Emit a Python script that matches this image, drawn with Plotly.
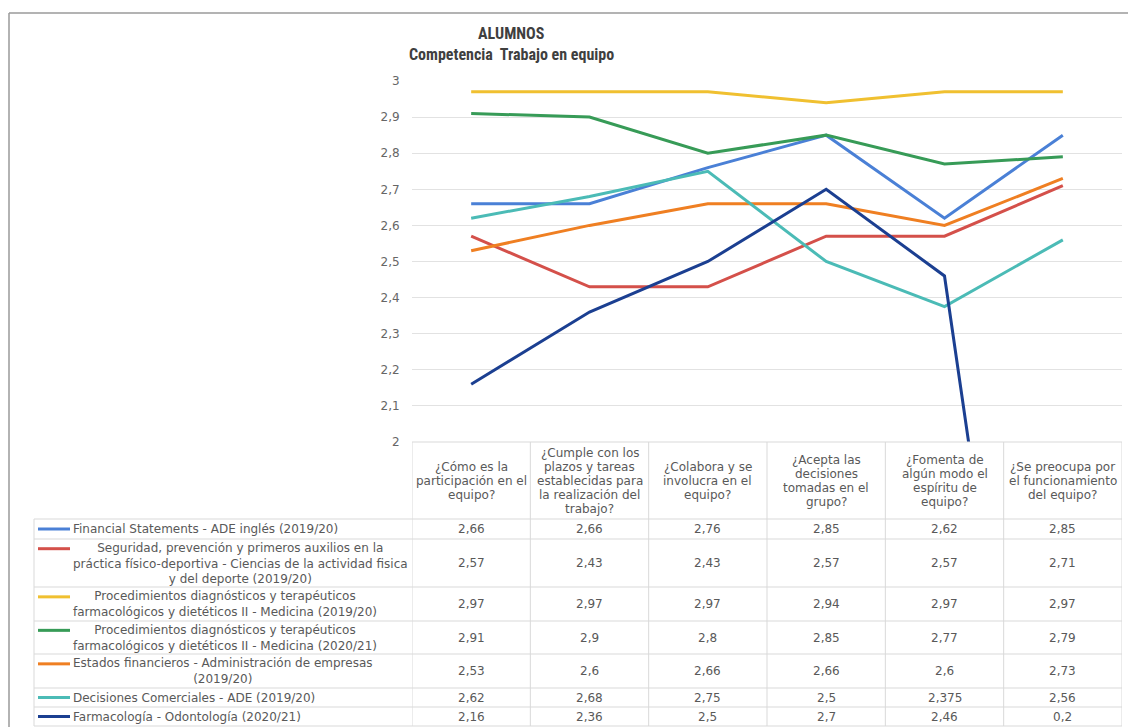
import plotly.graph_objects as go

# ---------------- data ----------------
categories = [
    "¿Cómo es la<br>participación en el<br>equipo?",
    "¿Cumple con los<br>plazos y tareas<br>establecidas para<br>la realización del<br>trabajo?",
    "¿Colabora y se<br>involucra en el<br>equipo?",
    "¿Acepta las<br>decisiones<br>tomadas en el<br>grupo?",
    "¿Fomenta de<br>algún modo el<br>espíritu de<br>equipo?",
    "¿Se preocupa por<br>el funcionamiento<br>del equipo?",
]

series_names = [
    "Financial Statements - ADE inglés (2019/20)",
    "Seguridad, prevención y primeros auxilios en la<br>práctica físico-deportiva - Ciencias de la actividad fisica<br>y del deporte (2019/20)",
    "Procedimientos diagnósticos y terapéuticos<br>farmacológicos y dietéticos II - Medicina (2019/20)",
    "Procedimientos diagnósticos y terapéuticos<br>farmacológicos y dietéticos II - Medicina (2020/21)",
    "Estados financieros - Administración de empresas<br>(2019/20)",
    "Decisiones Comerciales - ADE (2019/20)",
    "Farmacología - Odontología (2020/21)",
]

financial_statements = [2.66, 2.66, 2.76, 2.85, 2.62, 2.85]
seguridad = [2.57, 2.43, 2.43, 2.57, 2.57, 2.71]
procedimientos_1920 = [2.97, 2.97, 2.97, 2.94, 2.97, 2.97]
procedimientos_2021 = [2.91, 2.9, 2.8, 2.85, 2.77, 2.79]
estados_financieros = [2.53, 2.6, 2.66, 2.66, 2.6, 2.73]
decisiones_comerciales = [2.62, 2.68, 2.75, 2.5, 2.375, 2.56]
farmacologia = [2.16, 2.36, 2.5, 2.7, 2.46, 0.2]

series_values = [financial_statements, seguridad, procedimientos_1920,
                 procedimientos_2021, estados_financieros,
                 decisiones_comerciales, farmacologia]

y_ticks = [2, 2.1, 2.2, 2.3, 2.4, 2.5, 2.6, 2.7, 2.8, 2.9, 3]

title_lines = ["ALUMNOS", "Competencia  Trabajo en equipo"]

# ---------------- style ----------------
colors = ["#4a80d6", "#d4504a", "#f0c030", "#379b57", "#ef7f22", "#4bbbb6", "#1b3f91"]

W, H = 1128, 727
PLOT_L, PLOT_R, PLOT_T, PLOT_B = 412, 1122, 81, 442
TABLE_L = 34
row_edges = [519, 539, 587, 621, 654, 688, 707, 726]
HEADER_CENTER = 481
HEADER_LH = 14
LEG_LH = 14.3
grid_col = "#d9d9d9"
txt_col = "#595959"
TABLE_FONT = "DejaVu Sans, Liberation Sans, Arial, sans-serif"


def px(x):
    return x / W


def py(y):
    return 1 - y / H


def fmt(v):
    return format(v, "g").replace(".", ",")


fig = go.Figure()
for name, vals, c in zip(series_names, series_values, colors):
    fig.add_trace(go.Scatter(
        x=list(range(len(categories))), y=vals, mode="lines",
        name=name.replace("<br>", " "),
        line=dict(color=c, width=3), showlegend=False,
        hoverinfo="skip",
    ))

shapes = []
annotations = []

# outer frame
shapes.append(dict(type="line", xref="paper", yref="paper", x0=px(9), x1=1,
                   y0=py(13), y1=py(13), line=dict(color="#9a9a9a", width=1.5)))
shapes.append(dict(type="line", xref="paper", yref="paper", x0=px(9), x1=px(9),
                   y0=py(13), y1=0, line=dict(color="#9a9a9a", width=1.5)))

# table grid
shapes.append(dict(type="line", xref="paper", yref="paper", x0=px(PLOT_L), x1=px(PLOT_R),
                   y0=py(PLOT_B), y1=py(PLOT_B), line=dict(color=grid_col, width=1)))
for ye in row_edges:
    shapes.append(dict(type="line", xref="paper", yref="paper", x0=px(TABLE_L), x1=px(PLOT_R),
                       y0=py(ye), y1=py(ye), line=dict(color=grid_col, width=1)))
shapes.append(dict(type="line", xref="paper", yref="paper", x0=px(TABLE_L), x1=px(TABLE_L),
                   y0=py(row_edges[0]), y1=py(row_edges[-1]), line=dict(color=grid_col, width=1)))
for k in range(len(categories) + 1):
    shapes.append(dict(type="line", xref="x", yref="paper", x0=k - 0.5, x1=k - 0.5,
                       y0=py(PLOT_B), y1=py(row_edges[-1]), line=dict(color=grid_col, width=1)))

# header labels (one annotation per line for tight spacing)
for i, cat in enumerate(categories):
    lines = cat.split("<br>")
    n = len(lines)
    for j, ln in enumerate(lines):
        yy = HEADER_CENTER + (j - (n - 1) / 2) * HEADER_LH
        annotations.append(dict(xref="x", yref="paper", x=i, y=py(yy), text=ln,
                                showarrow=False, xanchor="center", yanchor="middle",
                                font=dict(family=TABLE_FONT, size=12, color=txt_col)))

# rows: legend keys, names, values
for r, (name, vals, c) in enumerate(zip(series_names, series_values, colors)):
    top, bot = row_edges[r], row_edges[r + 1]
    cy = (top + bot) / 2
    n = len(name.split("<br>"))
    key_y = cy - (n - 1) * LEG_LH / 2
    shapes.append(dict(type="line", xref="paper", yref="paper", x0=px(38), x1=px(70),
                       y0=py(key_y), y1=py(key_y), line=dict(color=c, width=3)))
    annotations.append(dict(xref="paper", yref="paper", x=px(71), y=py(cy), text=name,
                            showarrow=False, xanchor="left", yanchor="middle", align="center",
                            font=dict(family=TABLE_FONT, size=12, color=txt_col)))
    for i, v in enumerate(vals):
        annotations.append(dict(xref="x", yref="paper", x=i, y=py(cy), text=fmt(v),
                                showarrow=False, xanchor="center", yanchor="middle",
                                font=dict(family=TABLE_FONT, size=12, color=txt_col)))

# title
TITLE_FONT = "Liberation Sans Narrow, Roboto Condensed, Arial Narrow, Liberation Sans, Arial, sans-serif"
for j, (t, yy) in enumerate(zip(title_lines, [34, 54])):
    annotations.append(dict(xref="paper", yref="paper", x=px(511), y=py(yy), text="<b>" + t + "</b>",
                            showarrow=False, xanchor="center", yanchor="middle",
                            font=dict(family=TITLE_FONT, size=16, color="#3f3f3f")))

fig.update_layout(
    width=W, height=H, autosize=False,
    margin=dict(l=0, r=0, t=0, b=0, autoexpand=False),
    paper_bgcolor="white", plot_bgcolor="white",
    showlegend=False,
    xaxis=dict(domain=[px(PLOT_L), px(PLOT_R)], range=[-0.5, len(categories) - 0.5],
               showticklabels=False, showgrid=False, zeroline=False, showline=False,
               automargin=False, fixedrange=True),
    yaxis=dict(domain=[py(PLOT_B), py(PLOT_T)], range=[2, 3],
               tickvals=y_ticks, ticktext=[fmt(v) for v in y_ticks],
               showgrid=True, gridcolor="#e2e2e2", gridwidth=1,
               zeroline=False, showline=False,
               ticks="outside", ticklen=9, tickcolor="rgba(0,0,0,0)",
               tickfont=dict(family=TABLE_FONT, size=12, color="#666666"),
               automargin=False, fixedrange=True),
    shapes=shapes,
    annotations=annotations,
)

fig.write_html(
    "out.html",
    config={"displayModeBar": False, "responsive": False},
    post_script="document.body.style.margin='0';document.documentElement.style.overflow='hidden';",
)
